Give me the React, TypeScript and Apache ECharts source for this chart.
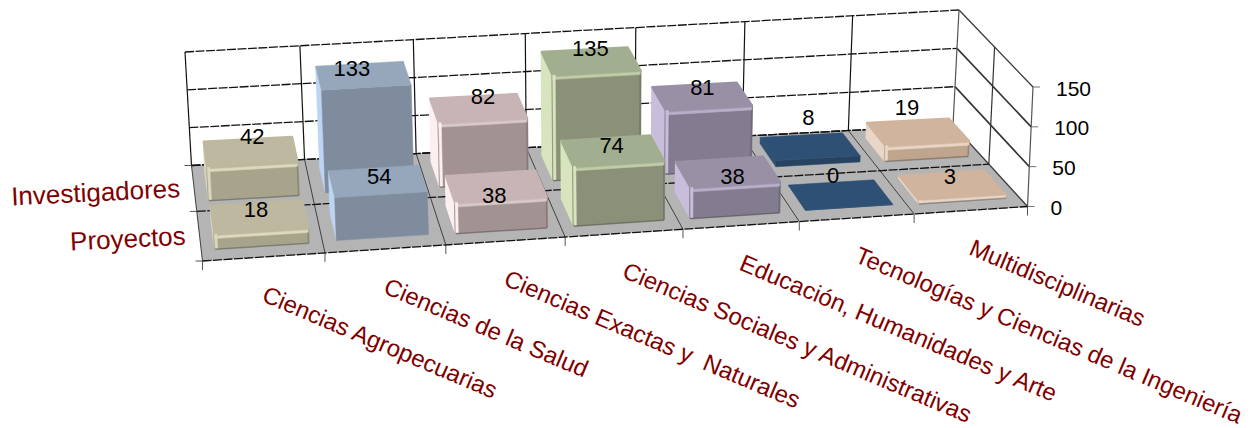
import React, { useEffect, useRef } from "react";
import * as echarts from "echarts";

const categories = [
  "Ciencias Agropecuarias",
  "Ciencias de la Salud",
  "Ciencias Exactas y  Naturales",
  "Ciencias Sociales y Administrativas",
  "Educación, Humanidades y Arte",
  "Tecnologías y Ciencias de la Ingeniería",
  "Multidisciplinarias",
];
const proyectos = [18, 54, 38, 74, 38, 0, 3];
const investigadores = [42, 133, 82, 135, 81, 8, 19];
const rowNames = ["Proyectos", "Investigadores"];
const valueTicks = [0, 50, 100, 150];

// [top, front, left, highlight]
const palette = [
  ["#BDB89F", "#A8A48C", "#DAD6BE", "#DDD8BE"],
  ["#96A6BB", "#7F8C9E", "#BDD4F2", "#96A6BB"],
  ["#C8B4B4", "#A39292", "#FBEFEF", "#D8C8C8"],
  ["#A2AE90", "#8A9178", "#D8E4BE", "#C0CCA8"],
  ["#9A90A6", "#837B8F", "#C8BEDC", "#B8AEC8"],
  ["#2E5075", "#264462", "#2E5075", "#2E5075"],
  ["#D0B49E", "#BFA48E", "#EAD6C6", "#E8D4C4"],
];

// Excel nudges its value labels away from the bars by a different amount each time: [dx, dy] per row, per category.
const labelNudge = [
  [[-1, -2], [5, 0], [3, 14], [5, -1], [12, 9], [1, -15], [7, -5]],
  [[4, -11], [-8, -3], [9, -8], [5, -9], [7, -6], [6, -26], [-2, -22]],
];

// Perspective frame of the 3D box, as it sits on the page: front-left, front-right, back-right, back-left.
type Pt = [number, number];
const floorQuad: Pt[] = [[202.5, 261], [1027.5, 206.5], [953, 125], [191.5, 165.5]];
const ceilQuad: Pt[] = [[196, 141], [1033, 87], [959, 10], [185, 52]];
const GRID = { x: 0, y: 0, w: 100, h: 100 };
const COUNT = categories.length;
const MAX = valueTicks[valueTicks.length - 1];
const WARP_U = 0.046;
const WARP_V = 0.08;

const warp = (t: number, k: number) => (t * (1 + k)) / (1 + k * t);
function quadAt(q: Pt[], u0: number, v0: number): Pt {
  const u = warp(u0, WARP_U);
  const v = warp(v0, WARP_V);
  const fx = q[0][0] + (q[1][0] - q[0][0]) * u;
  const fy = q[0][1] + (q[1][1] - q[0][1]) * u;
  const bx = q[3][0] + (q[2][0] - q[3][0]) * u;
  const by = q[3][1] + (q[2][1] - q[3][1]) * u;
  return [fx + (bx - fx) * v, fy + (by - fy) * v];
}

// api.coord turns (category position, value) into grid pixels via the chart's axes;
// these are then carried through the perspective.
function project(api: any, xVal: number, depth: number, val: number): Pt {
  const c = api.coord([xVal, val]);
  const u = (c[0] - GRID.x) / GRID.w;
  const h = (GRID.y + GRID.h - c[1]) / GRID.h;
  const a = quadAt(floorQuad, u, depth);
  const b = quadAt(ceilQuad, u, depth);
  return [a[0] + (b[0] - a[0]) * h, a[1] + (b[1] - a[1]) * h];
}

const GAP_X = 0.115;
const GAP_FRONT = 0.115;
const GAP_BACK = 0.1;
const DARK = "#111";

function poly(points: Pt[], fill: string, lw = 0.5) {
  return {
    type: "polygon",
    shape: { points },
    style: { fill, stroke: fill, lineWidth: lw, lineJoin: "round" },
    silent: true,
  };
}
function seg(a: Pt, b: Pt, stroke: string, lineWidth = 1, dash?: number[]) {
  return {
    type: "line",
    shape: { x1: a[0], y1: a[1], x2: b[0], y2: b[1] },
    style: { stroke, lineWidth, lineDash: dash, fill: "none" },
    silent: true,
  };
}
const label = (text: string, x: number, y: number, o: any) => ({
  type: "text",
  x,
  y,
  rotation: o.rotation || 0,
  silent: true,
  style: {
    text,
    x: 0,
    y: 0,
    fontSize: o.fontSize,
    fontFamily: "Liberation Sans",
    fill: o.fill,
    align: o.align || "center",
    verticalAlign: "middle",
  },
});

function renderFrame(_: any, api: any) {
  const P = (c: number, d: number, v: number) => project(api, c, d, v);
  const out: any[] = [];
  out.push(poly([P(0, 0, 0), P(COUNT, 0, 0), P(COUNT, 1, 0), P(0, 1, 0)], "#B4B4B4"));
  const dash = [9, 1.5];
  valueTicks.forEach((t) => {
    out.push(seg(P(0, 1, t), P(COUNT, 1, t), DARK, 1.3, dash));
    out.push(seg(P(COUNT, 1, t), P(COUNT, 0, t), t === 0 ? "#666" : "#333", t === 150 ? 1.2 : 1.6));
    const p = P(COUNT, 0, t);
    out.push(seg(p, [p[0] + 7, p[1]], "#777", 1));
  });
  for (let c = 0; c <= COUNT; c++) {
    out.push(seg(P(c, 1, 0), P(c, 1, MAX), c === COUNT ? "#555" : DARK, 1.2));
    out.push(seg(P(c, 1, 0), P(c, 0, 0), "#333", 0.9));
    const p = P(c, 0, 0);
    out.push(seg(p, [p[0], p[1] + 9], "#555", 1));
  }
  out.push(seg(P(COUNT, 0.5, 0), P(COUNT, 0.5, MAX), "#333", 1.2));
  out.push(seg(P(COUNT, 0, 0), P(COUNT, 0, MAX), "#555", 1.2));
  [0, 0.5, 1].forEach((d) => {
    out.push(seg(P(0, d, 0), P(COUNT, d, 0), DARK, 1.3, dash));
    const p = P(0, d, 0);
    out.push(seg(p, [p[0] - 7, p[1]], "#555", 1));
  });
  return { type: "group", children: out };
}

function renderBar(row: number) {
  return (_: any, api: any) => {
    const cat = api.value(0);
    const val = api.value(1);
    const [top, front, left, hi] = palette[cat];
    const x0 = cat + GAP_X, x1 = cat + 1 - GAP_X;
    const d0 = row * 0.5 + GAP_FRONT, d1 = row * 0.5 + 0.5 - GAP_BACK;
    const P = (c: number, d: number, v: number) => project(api, c, d, v);
    const bevel = val > 2 && cat !== 1 && cat !== 5;
    const lw = bevel ? 2.5 : 0.5;
    const children: any[] = [
      poly([P(x0, d1, 0), P(x0, d0, 0), P(x0, d0, val), P(x0, d1, val)], left, lw),
      poly([P(x0, d0, 0), P(x1, d0, 0), P(x1, d0, val), P(x0, d0, val)], front, lw),
      poly([P(x0, d0, val), P(x1, d0, val), P(x1, d1, val), P(x0, d1, val)], top, lw),
    ];
    if (bevel) {
      const a = P(x0, d0, val), b = P(x1, d0, val), c = P(x0, d0, 0), e = P(x1, d0, 0);
      const off = (p: Pt, dy: number): Pt => [p[0], p[1] + dy];
      const lip = Math.min(2, Math.abs(c[1] - a[1]) / 4);
      children.push(poly([a, b, off(b, lip), off(a, lip)], top));
      children.push(poly([off(a, lip), off(b, lip), off(b, lip + 2.5), off(a, lip + 2.5)], hi));
      children.push(poly([a, c, [c[0] + 2.5, c[1]], [a[0] + 2.5, a[1]]], left));
      children.push(seg(off(c, 1), off(e, 1), "rgba(50,50,50,0.35)", 1.5));
      children.push(seg(off(e, 1), off(b, lip + 2), "rgba(50,50,50,0.25)", 1.5));
    }
    return { type: "group", children };
  };
}

function renderValueLabel(row: number) {
  return (_: any, api: any) => {
    const cat = api.value(0);
    const val = api.value(1);
    const p = project(api, cat + 0.5, row * 0.5 + 0.385, val);
    const [dx, dy] = labelNudge[row][cat];
    return label(String(val), p[0] + dx, p[1] + 7 + dy, { fontSize: 22, fill: "#000" });
  };
}

function renderCategoryLabel(_: any, api: any) {
  const cat = api.value(0);
  const p = project(api, cat + 0.5, 0, 0);
  return label(categories[cat], p[0], p[1] + 36, { fontSize: 24, fill: "#800000", align: "left", rotation: -0.4 });
}

function renderRowLabel(_: any, api: any) {
  const row = api.value(0);
  const p = project(api, 0, row * 0.5 + 0.25, 0);
  return label(rowNames[row], p[0] - 14, p[1], { fontSize: 26, fill: "#800000", align: "right", rotation: 0.05 });
}

function renderTickLabel(_: any, api: any) {
  const t = api.value(1);
  const p = project(api, COUNT, 0, t);
  return label(String(t), p[0] + 23, p[1] + 1, { fontSize: 21, fill: "#000", align: "left" });
}

const barData = (vals: number[]) => vals.map((v, i) => [i, v]).reverse();
const custom = (renderItem: any, data: any[], z: number) => ({
  type: "custom",
  renderItem,
  data,
  z,
  encode: { x: 0, y: 1 },
  silent: true,
  clip: false,
});

export default function App() {
  const ref = useRef<HTMLDivElement>(null);
  useEffect(() => {
    const chart = echarts.init(ref.current!, undefined, { renderer: "svg" });
    chart.setOption({
      animation: false,
      backgroundColor: "#fff",
      tooltip: { show: false },
      grid: { left: GRID.x, top: GRID.y, width: GRID.w, height: GRID.h, show: false, containLabel: false },
      xAxis: { type: "value", min: 0, max: COUNT, show: false },
      yAxis: { type: "value", min: 0, max: MAX, show: false },
      series: [
        custom(renderFrame, [[0, 0]], 1),
        custom(renderBar(1), barData(investigadores), 2),
        custom(renderBar(0), barData(proyectos), 3),
        custom(renderValueLabel(1), barData(investigadores), 4),
        custom(renderValueLabel(0), barData(proyectos), 4),
        custom(renderCategoryLabel, categories.map((_, i) => [i, 0]), 4),
        custom(renderRowLabel, rowNames.map((_, i) => [i, 0]), 4),
        custom(renderTickLabel, valueTicks.map((t) => [COUNT, t]), 4),
      ],
    });
    return () => chart.dispose();
  }, []);
  return <div ref={ref} style={{ position: "absolute", left: 0, top: 0, width: 1255, height: 428, overflow: "hidden" }} />;
}
